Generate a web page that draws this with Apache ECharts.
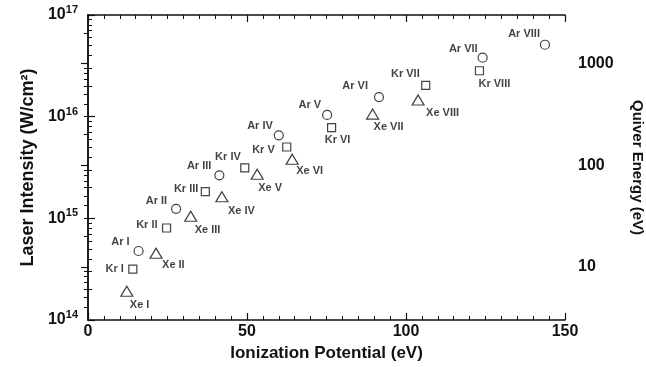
<!DOCTYPE html>
<html>
<head>
<meta charset="utf-8">
<script src="https://cdn.jsdelivr.net/npm/echarts@6/dist/echarts.min.js"></script>
<style>
html,body{margin:0;padding:0;background:#fff;}
#chart{width:646px;height:367px;}
</style>
</head>
<body>
<div id="chart"></div>
<script>
// ---- data ----
const arNames = ['Ar I','Ar II','Ar III','Ar IV','Ar V','Ar VI','Ar VII','Ar VIII'];
const arIP = [15.9, 27.7, 41.3, 60.0, 75.2, 91.5, 124.1, 143.7];
const arIntensity = [4.77e14, 1.24e15, 2.65e15, 6.56e15, 1.04e16, 1.56e16, 3.80e16, 5.10e16];

const krNames = ['Kr I','Kr II','Kr III','Kr IV','Kr V','Kr VI','Kr VII','Kr VIII'];
const krIP = [14.1, 24.7, 36.9, 49.3, 62.5, 76.6, 106.2, 123.1];
const krIntensity = [3.17e14, 8.03e14, 1.83e15, 3.13e15, 5.03e15, 7.79e15, 2.03e16, 2.83e16];

const xeNames = ['Xe I','Xe II','Xe III','Xe IV','Xe V','Xe VI','Xe VII','Xe VIII'];
const xeIP = [12.2, 21.4, 32.3, 42.1, 53.2, 64.2, 89.5, 103.8];
const xeIntensity = [1.92e14, 4.53e14, 1.05e15, 1.63e15, 2.71e15, 3.81e15, 1.06e16, 1.46e16];

const xTicks = [0, 50, 100, 150];
const intensityTicks = [1e14, 1e15, 1e16, 1e17];
const quiverRange = [3, 3000];
const quiverLabels = [10, 100, 1000];

// ---- label placement (style, not data) ----
const arLabelPos = [['right',-9,-9],['right',-9,-8],['right',-8,-9],['right',-6,-9],['right',-6,-10],['right',-11,-11],['right',-5,-9],['right',-5,-11]];
const krLabelPos = [['right',-9,0],['right',-9,-3],['right',-7,-3],['right',-4,-11],['right',-12,3],['center',6,12],['right',-6,-11],['left',-1,13]];
const xeLabelPos = [['left',3,14],['left',6,12],['left',4,14],['left',6,14],['left',1,14],['left',4,12],['left',1,13],['left',8,13]];

const intensityRange = [intensityTicks[0], intensityTicks[intensityTicks.length-1]];

function minorLog(lo, hi){
  const out=[];
  for(let d=Math.floor(Math.log10(lo)); d<=Math.ceil(Math.log10(hi)); d++){
    for(let m=2;m<=9;m++){const v=m*Math.pow(10,d); if(v>lo*1.0001 && v<hi*0.9999) out.push(v);}
  }
  return out;
}
function minorLin(lo, hi, step, major){
  const out=[];
  for(let v=lo+step; v<hi; v+=step){ if(Math.abs(v/major-Math.round(v/major))>1e-6) out.push(v); }
  return out;
}

const black = '#111';
const fontFam = 'Liberation Sans, Arial, sans-serif';

function build(names, xs, ys, pos){
  return names.map((n,i)=>({
    name:n,
    value:[xs[i], ys[i]],
    label:{show:true, formatter:n, position:'inside', align:pos[i][0], verticalAlign:'middle',
           offset:[pos[i][1], pos[i][2]], color:black, fontSize:11, fontWeight:'bold',
           fontFamily:fontFam}
  }));
}

const chart = echarts.init(document.getElementById('chart'), null, {renderer:'canvas'});
const markerStyle = {color:'rgba(255,255,255,0)', borderColor:black, borderWidth:1.2};

function tickAxisX(pos, vals, len){
  return {type:'value', min:xTicks[0], max:xTicks[xTicks.length-1], position:pos,
    axisLine:{show:false}, splitLine:{show:false}, axisLabel:{show:false},
    axisTick:{show:true, inside:true, length:len, customValues:vals, lineStyle:{color:black, width:1}}};
}
function tickAxisY(pos, range, vals, len){
  return {type:'log', logBase:10, min:range[0], max:range[1], position:pos, offset:0,
    axisLine:{show:false}, splitLine:{show:false}, axisLabel:{show:false},
    axisTick:{show:true, inside:true, length:len, customValues:vals, lineStyle:{color:black, width:1}}};
}

const xMinor = minorLin(xTicks[0], xTicks[xTicks.length-1], 5, 50);

chart.setOption({
  animation:false,
  backgroundColor:'#fff',
  grid:{left:88, right:81, top:15, bottom:47, containLabel:false, outerBoundsMode:'none'},
  xAxis:[
    {type:'value', min:xTicks[0], max:xTicks[xTicks.length-1], interval:50, position:'bottom',
     axisLine:{show:true, lineStyle:{color:black, width:1.5}},
     axisTick:{show:true, inside:true, length:7, customValues:xTicks, lineStyle:{color:black, width:1.2}},
     splitLine:{show:false},
     axisLabel:{customValues:xTicks, color:black, fontSize:16, fontWeight:'bold', fontFamily:fontFam, margin:4},
     name:'Ionization Potential (eV)', nameLocation:'middle', nameGap:25,
     nameTextStyle:{color:black, fontSize:17, fontWeight:'bold', fontFamily:fontFam}},
    {type:'value', min:xTicks[0], max:xTicks[xTicks.length-1], interval:50, position:'top',
     axisLine:{show:true, lineStyle:{color:black, width:1.5}},
     axisTick:{show:true, inside:true, length:7, customValues:xTicks, lineStyle:{color:black, width:1.2}},
     splitLine:{show:false}, axisLabel:{show:false}},
    tickAxisX('bottom', xMinor, 4),
    tickAxisX('top', xMinor, 4)
  ],
  yAxis:[
    {type:'log', logBase:10, min:intensityRange[0], max:intensityRange[1], position:'left',
     axisLine:{show:true, lineStyle:{color:black, width:1.5}},
     axisTick:{show:true, inside:true, length:7, customValues:intensityTicks, lineStyle:{color:black, width:1.2}},
     splitLine:{show:false},
     axisLabel:{customValues:intensityTicks, margin:10, formatter:function(v){const e=Math.round(Math.log10(v)); return '{b|10}{s|'+e+'}';},
       rich:{b:{fontSize:16, fontWeight:'bold', color:black, fontFamily:fontFam},
             s:{fontSize:11, fontWeight:'bold', color:black, fontFamily:fontFam, padding:[0,0,10,0]}}},
     name:'Laser Intensity (W/cm²)', nameLocation:'middle', nameRotate:90, nameGap:50,
     nameTextStyle:{color:black, fontSize:18, fontWeight:'bold', fontFamily:fontFam}},
    tickAxisY('left', intensityRange, minorLog(intensityRange[0], intensityRange[1]), 4),
    {type:'log', logBase:10, min:quiverRange[0], max:quiverRange[1], position:'right', offset:0,
     axisLine:{show:true, lineStyle:{color:black, width:1.5}},
     axisTick:{show:true, inside:true, length:7, customValues:quiverLabels, lineStyle:{color:black, width:1.2}},
     splitLine:{show:false},
     axisLabel:{customValues:quiverLabels, formatter:function(v){return String(v);}, margin:13, color:black, fontSize:16, fontWeight:'bold', fontFamily:fontFam},
     name:'Quiver Energy (eV)', nameLocation:'middle', nameRotate:-90, nameGap:65,
     nameTextStyle:{color:black, fontSize:15, fontWeight:'bold', fontFamily:fontFam}},
    tickAxisY('right', quiverRange, minorLog(quiverRange[0], quiverRange[1]), 4)
  ],
  series:[
    {type:'scatter', name:'Ar', symbol:'circle', symbolSize:9, xAxisIndex:0, yAxisIndex:0,
     itemStyle:markerStyle, data:build(arNames, arIP, arIntensity, arLabelPos)},
    {type:'scatter', name:'Kr', symbol:'rect', symbolSize:8, xAxisIndex:0, yAxisIndex:0,
     itemStyle:markerStyle, data:build(krNames, krIP, krIntensity, krLabelPos)},
    {type:'scatter', name:'Xe', symbol:'triangle', symbolSize:[12,10], xAxisIndex:0, yAxisIndex:0,
     itemStyle:markerStyle, data:build(xeNames, xeIP, xeIntensity, xeLabelPos)}
  ]
});
</script>
</body>
</html>
